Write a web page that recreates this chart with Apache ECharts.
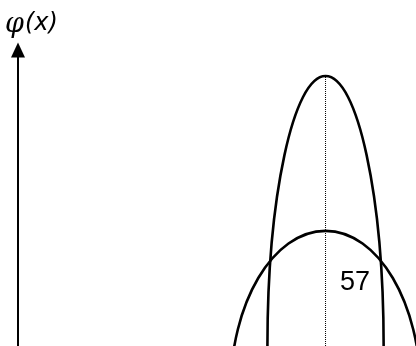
<!DOCTYPE html>
<html>
<head>
<meta charset="utf-8">
<script src="https://cdn.jsdelivr.net/npm/echarts@6/dist/echarts.min.js"></script>
<style>
  html, body { margin: 0; padding: 0; background: #fff; }
  #chart { width: 416px; height: 346px; }
</style>
</head>
<body>
<div id="chart"></div>
<script>
// Two bell-shaped curves sharing one centre line.
const curveNames = ['narrow', 'wide'];
const centerX = [77.27, 77.27];     // common centre of both curves
const peakY = [91.2, 38.9];         // height of each curve's top
const halfWidth = [14.6, 23.9];     // horizontal half-width at the curve's base level
const baseY = [0, -15.5];           // level at which the curve is widest
const centerLabel = '57';
const axisName = ['φ', '(x)'];

const curveData = curveNames.map((n, i) => ({
  name: n,
  value: [centerX[i], baseY[i], halfWidth[i], peakY[i]]
}));

const chart = echarts.init(document.getElementById('chart'));

chart.setOption({
  animation: false,
  backgroundColor: '#fff',
  grid: { left: 18, right: 0, top: 50, bottom: 0, containLabel: false },
  xAxis: {
    type: 'value', min: 0, max: 100, show: false
  },
  yAxis: {
    type: 'value', min: 0, max: 100,
    axisLine: {
      show: true,
      symbol: ['none', 'triangle'],
      symbolSize: [14, 15],
      lineStyle: { color: '#000', width: 2 }
    },
    axisTick: { show: false },
    axisLabel: { show: false },
    splitLine: { show: false }
  },
  series: [
    {
      type: 'custom',
      coordinateSystem: 'cartesian2d',
      data: curveData,
      encode: { x: 0, y: 1 },
      renderItem: function (params, api) {
        const cx = api.value(0), by = api.value(1), hw = api.value(2), pk = api.value(3);
        const c = api.coord([cx, by]);
        const top = api.coord([cx, pk]);
        const side = api.coord([cx + hw, by]);
        return {
          type: 'ellipse',
          shape: { cx: c[0], cy: c[1], rx: side[0] - c[0], ry: c[1] - top[1] },
          style: { fill: 'none', stroke: '#000', lineWidth: 2.6 }
        };
      }
    },
    {
      type: 'line',
      symbol: 'none',
      data: [[centerX[0], 0], [centerX[0], peakY[0]]],
      lineStyle: { color: '#000', width: 1, type: 'dotted' },
      z: 1
    }
  ],
  graphic: [
    {
      type: 'text',
      left: 5,
      top: 11,
      style: { text: axisName[0], font: 'italic 27px "DejaVu Serif"', fill: '#000' }
    },
    {
      type: 'text',
      left: 25,
      top: 12,
      style: { text: axisName[1], font: 'italic 24px "DejaVu Sans"', fill: '#000' }
    },
    {
      type: 'text',
      left: 340,
      top: 269,
      style: { text: centerLabel, font: '27px "Liberation Sans"', fill: '#000' }
    }
  ]
});
</script>
</body>
</html>
